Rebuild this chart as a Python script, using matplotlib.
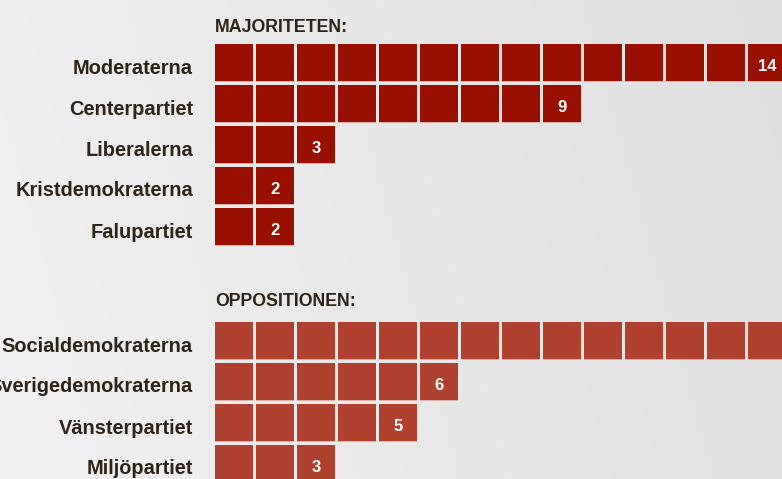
import numpy as np
import matplotlib
matplotlib.use("Agg")
import matplotlib.pyplot as plt
from matplotlib.patches import Rectangle

# ---- data ----
majority_title = "MAJORITETEN:"
majority_parties = ["Moderaterna", "Centerpartiet", "Liberalerna", "Kristdemokraterna", "Falupartiet"]
majority_seats = [14, 9, 3, 2, 2]

opposition_title = "OPPOSITIONEN:"
opposition_parties = ["Socialdemokraterna", "Sverigedemokraterna", "Vänsterpartiet", "Miljöpartiet"]
opposition_seats = [15, 6, 5, 3]

# ---- style / layout ----
W, H = 782, 479
maj_color = "#991000"
opp_color = "#b0412f"
text_color = "#2e2318"
x0 = 215
pitch = 41
size = 38
FONT = ["Liberation Sans", "DejaVu Sans"]

fig = plt.figure(figsize=(W / 100, H / 100), dpi=100)
ax = fig.add_axes([0, 0, 1, 1])
ax.set_xlim(0, W)
ax.set_ylim(H, 0)
ax.axis("off")

# background gradient
gx = np.linspace(0, 1, 200)
gy = np.linspace(0, 1, 120)
GX, GY = np.meshgrid(gx, gy)
val = 0.935 - 0.060 * GX + 0.010 * GY
ax.imshow(np.dstack([val, val, val]), extent=[0, W, H, 0], aspect="auto", zorder=0,
          interpolation="bilinear")


def draw_group(title, title_baseline, parties, seats, first_top, color):
    ax.text(x0, title_baseline, title, fontsize=12.8, fontweight="bold", color=text_color,
            family=FONT, ha="left", va="baseline", zorder=3)
    for r, (p, n) in enumerate(zip(parties, seats)):
        top = first_top + r * pitch
        ax.text(193, top + 29.5, p, fontsize=14.4, fontweight="bold", color=text_color,
                family=FONT, ha="right", va="baseline", zorder=3)
        for i in range(n):
            left = x0 + i * pitch
            ax.add_patch(Rectangle((left, top), size, size, facecolor=color,
                                   edgecolor="none", zorder=2))
            ax.add_patch(Rectangle((left, top + size - 1), size, 1.2, facecolor="#d6b2aa",
                                   edgecolor="none", zorder=2.1))
        cx = x0 + (n - 1) * pitch + size / 2
        if cx < W:
            ax.text(cx, top + 27, str(n), fontsize=12, fontweight="bold",
                    color="white", family=FONT, ha="center", va="baseline", zorder=3)


draw_group(majority_title, 31.5, majority_parties, majority_seats, 44, maj_color)
draw_group(opposition_title, 306, opposition_parties, opposition_seats, 322, opp_color)

fig.savefig("out.png", dpi=100)
